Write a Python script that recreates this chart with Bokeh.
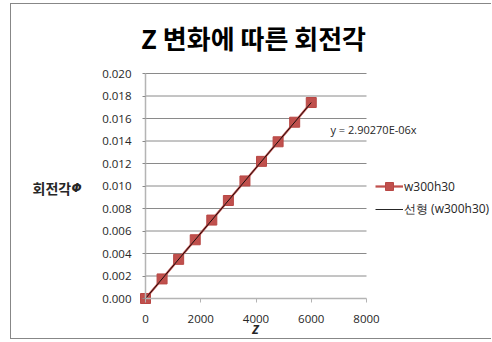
from bokeh.plotting import figure
from bokeh.models import (Range1d, FixedTicker, NumeralTickFormatter, Label,
                          Legend, LegendItem, ColumnDataSource)
from bokeh.embed import file_html
from bokeh.resources import INLINE

# ---- data ----
z_values = [0, 600, 1200, 1800, 2400, 3000, 3600, 4200, 4800, 5400, 6000]
rotation = [0.0, 0.00174, 0.00348, 0.00522, 0.00697, 0.00871,
            0.01045, 0.01219, 0.01393, 0.01567, 0.01742]
slope = 2.90270e-06
trend_x = [0, 6000]
trend_y = [slope * v for v in trend_x]
y_ticks = [0.0, 0.002, 0.004, 0.006, 0.008, 0.010, 0.012, 0.014, 0.016, 0.018, 0.020]
x_ticks = [0, 2000, 4000, 6000, 8000]
title_text = "Z 변화에 따른 회전각"
y_title = "회전각"
y_symbol = "Φ"
x_title = "Z"
series_name = "w300h30"
trend_name = "선형 (w300h30)"
eq_text = "y = 2.90270E-06x"

KFONT = "Noto Sans CJK KR"
NFONT = "Open Sans"
RED = "#C0504D"
TXT = "#262626"

# geometry (page pixels) of the plotting area
CANVAS_L, CANVAS_T, CANVAS_W, CANVAS_H = 11, 4, 481, 336
AX_L, AX_R, AX_T, AX_B = 145, 366, 73, 298
XPX = (x_ticks[-1] - x_ticks[0]) / (AX_R - AX_L)
YPX = (y_ticks[-1] - y_ticks[0]) / (AX_B - AX_T)


def dx(px):
    return (px - AX_L) * XPX


def dy(py):
    return (AX_B - py) * YPX


p = figure(width=CANVAS_W, height=CANVAS_H,
           x_range=Range1d(dx(CANVAS_L), dx(CANVAS_L + CANVAS_W)),
           y_range=Range1d(dy(CANVAS_T + CANVAS_H), dy(CANVAS_T)),
           output_backend="svg", toolbar_location=None, title=None,
           min_border_left=0, min_border_right=0,
           min_border_top=0, min_border_bottom=0)
p.styles = {"margin-left": "10px", "margin-top": "3px",
            "border-left": "1px solid #878787",
            "border-top": "1px solid #878787", "border-bottom": "1px solid #878787"}
p.outline_line_color = None
p.background_fill_color = "white"
p.border_fill_color = "white"
p.xgrid.visible = False
p.ygrid.visible = False

# gridlines across the data area
n = len(y_ticks) - 1
p.segment(x0=[x_ticks[0]] * n, x1=[x_ticks[-1]] * n, y0=y_ticks[1:], y1=y_ticks[1:],
          line_color="#8a8a8a", line_width=1)

# axes
p.xaxis.ticker = FixedTicker(ticks=x_ticks)
p.yaxis.ticker = FixedTicker(ticks=y_ticks)
p.yaxis.formatter = NumeralTickFormatter(format="0.000")
p.xaxis.fixed_location = 0
p.yaxis.fixed_location = 0
p.xaxis.bounds = (x_ticks[0], x_ticks[-1])
p.yaxis.bounds = (y_ticks[0], y_ticks[-1])
for ax in (p.xaxis, p.yaxis):
    ax.axis_line_color = "#b4b4b4"
    ax.axis_line_width = 1.5
    ax.major_tick_in = 0
    ax.minor_tick_line_color = None
    ax.major_label_text_font = NFONT
    ax.major_label_text_font_size = "11.5px"
    ax.major_label_text_color = TXT
p.xaxis.major_tick_line_color = "#b4b4b4"
p.xaxis.major_tick_out = 4
p.xaxis.major_label_standoff = 12
p.yaxis.major_tick_line_color = "#8a8a8a"
p.yaxis.major_tick_out = 3
p.yaxis.major_label_standoff = 11

src = ColumnDataSource(dict(x=z_values, y=rotation))
line_r = p.line("x", "y", source=src, line_color=RED, line_width=2.25)
scat_r = p.scatter("x", "y", source=src, marker="square", size=10,
                   fill_color=RED, line_color="#B84744")
trend_r = p.line(trend_x, trend_y, line_color="black", line_width=1, line_alpha=0.85)

legend = Legend(items=[LegendItem(label=series_name, renderers=[line_r, scat_r]),
                       LegendItem(label=trend_name, renderers=[trend_r])],
                location=(375 - CANVAS_L, CANVAS_T + CANVAS_H - 219),
                padding=0, margin=0, spacing=3,
                glyph_width=28, glyph_height=20, label_height=20, label_standoff=1,
                border_line_color=None, background_fill_alpha=0,
                label_text_font=NFONT, label_text_font_size="12px",
                label_text_color=TXT)
p.add_layout(legend)

p.add_layout(Label(x=dx(253), y=dy(37), text=title_text, text_align="center",
                   text_baseline="middle", text_font=KFONT, text_font_style="bold",
                   text_font_size="26px", text_color="black"))
p.add_layout(Label(x=dx(32), y=dy(187), text=y_title, text_align="left",
                   text_baseline="middle", text_font=KFONT, text_font_style="bold",
                   text_font_size="14px", text_color=TXT))
p.add_layout(Label(x=dx(71), y=dy(187), text=y_symbol, text_align="left",
                   text_baseline="middle", text_font="DejaVu Sans",
                   text_font_style="bold italic",
                   text_font_size="12px", text_color=TXT))
p.add_layout(Label(x=dx(255), y=dy(329), text=x_title, text_align="center",
                   text_baseline="middle", text_font=NFONT, text_font_style="bold italic",
                   text_font_size="12px", text_color=TXT))
p.add_layout(Label(x=dx(330), y=dy(129), text=eq_text, text_align="left",
                   text_baseline="middle", text_font=NFONT,
                   text_font_size="11px", text_color=TXT))

open("out.html", "w").write(file_html(p, INLINE))
